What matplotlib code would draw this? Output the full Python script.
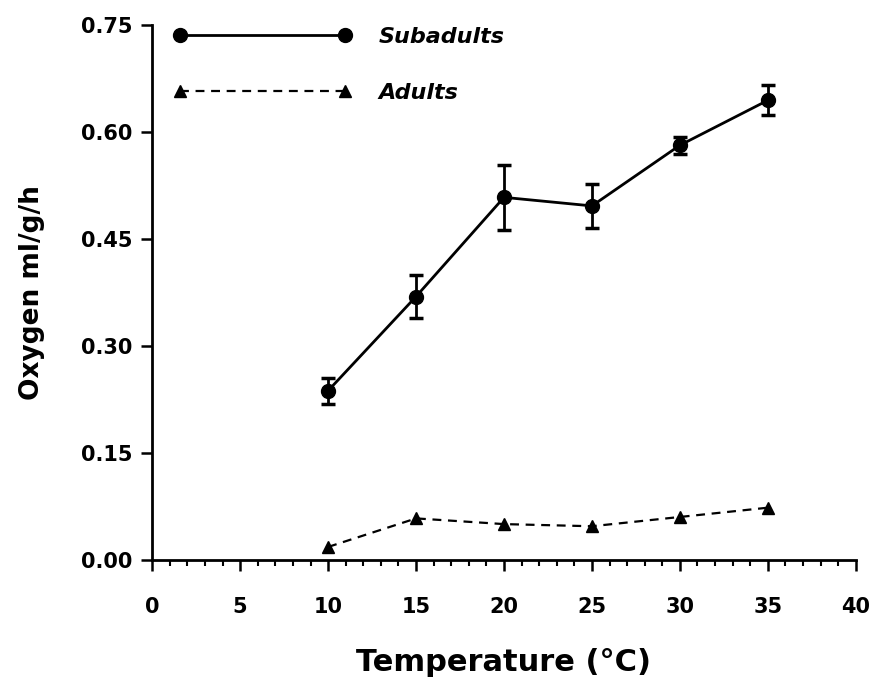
# Oxygen consumption vs temperature, subadults vs adults.

import matplotlib.pyplot as plt
from matplotlib.ticker import MultipleLocator, FormatStrFormatter

plt.rcParams["font.family"] = ["DejaVu Sans"]
plt.rcParams["font.weight"] = "bold"

# values
temperature = [10, 15, 20, 25, 30, 35]
subadults = [0.237, 0.369, 0.508, 0.496, 0.581, 0.644]
subadults_err = [0.018, 0.030, 0.046, 0.031, 0.012, 0.021]
adults = [0.018, 0.058, 0.050, 0.047, 0.060, 0.073]

fig = plt.figure(figsize=(8.75, 6.86), dpi=100)
ax = fig.add_axes([0.174, 0.184, 0.804, 0.780])

sub_line, = ax.plot(temperature, subadults, color="black", lw=2.0,
                    marker="o", markersize=10, label="Subadults")
ax.errorbar(temperature, subadults, yerr=subadults_err, fmt="none",
            ecolor="black", elinewidth=2.0, capsize=5, capthick=2.5)
ad_line, = ax.plot(temperature, adults, color="black", lw=1.6,
                   linestyle=(0, (4, 3)), marker="^", markersize=8,
                   label="Adults")

ax.set_xlim(0, 40)
ax.set_ylim(0, 0.75)
ax.xaxis.set_major_locator(MultipleLocator(5))
ax.xaxis.set_minor_locator(MultipleLocator(1))
ax.yaxis.set_major_locator(MultipleLocator(0.15))
ax.yaxis.set_major_formatter(FormatStrFormatter("%.2f"))

for side in ["top", "right"]:
    ax.spines[side].set_visible(False)
for side in ["left", "bottom"]:
    ax.spines[side].set_linewidth(2.0)

ax.tick_params(axis="both", which="major", direction="out", length=8,
               width=1.8, labelsize=15)
ax.tick_params(axis="x", which="major", pad=19)
ax.tick_params(axis="y", which="major", pad=6)
ax.tick_params(axis="x", which="minor", direction="out", length=4, width=1.5)
for lbl in ax.get_xticklabels() + ax.get_yticklabels():
    lbl.set_fontweight("bold")

ax.set_xlabel("Temperature (°C)", fontsize=22, fontweight="bold",
              labelpad=22)
ax.set_ylabel("Oxygen ml/g/h", fontsize=19, fontweight="bold", labelpad=26)

leg = ax.legend(handles=[sub_line, ad_line], loc="upper left",
                bbox_to_anchor=(0.018, 1.012), frameon=False, numpoints=2,
                handlelength=8.0, handletextpad=1.2, labelspacing=1.6,
                borderaxespad=0, prop={"size": 16, "style": "italic",
                                       "weight": "bold"})

fig.savefig("out.png", dpi=100)
